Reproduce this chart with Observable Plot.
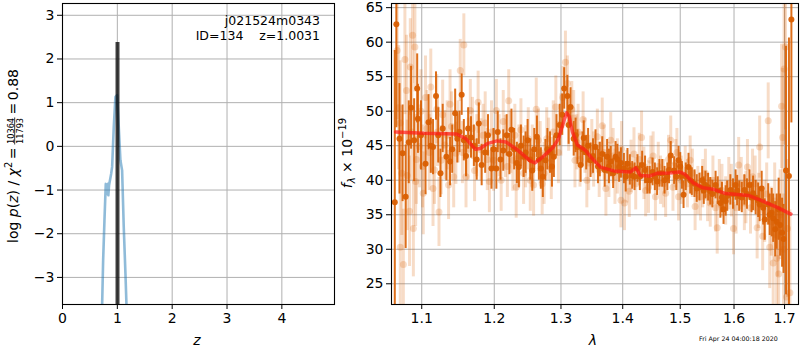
<!DOCTYPE html>
<html><head><meta charset="utf-8">
<script src="https://cdn.jsdelivr.net/npm/d3@7"></script>
<script src="https://cdn.jsdelivr.net/npm/@observablehq/plot@0.6"></script>
<style>
body{margin:0;background:#fff;font-family:"DejaVu Sans",sans-serif;}
#wrap{position:relative;width:800px;height:350px;overflow:hidden;background:#fff;}
#left{position:absolute;left:0;top:0;}
#right{position:absolute;left:340px;top:0;}
#stamp{position:absolute;left:699px;top:335px;font-size:6.3px;font-family:"DejaVu Sans",sans-serif;color:#000;white-space:pre;}
</style>
</head><body>
<div id="wrap"><div id="left"></div><div id="right"></div><div id="stamp"></div></div>
<script>
// ---------- data ----------
const objName = "j021524m0343";
const objInfo = "ID=134    z=1.0031";
const chi2Num = "10364";
const chi2Den = "11793";
const chi2Val = "0.88";
const stampText = "Fri Apr 24 04:00:18 2020";

const zTicks = [0, 1, 2, 3, 4];
const logpTicks = [-3, -2, -1, 0, 1, 2, 3];
const pzZ    = [0.723, 0.741, 0.765, 0.789, 0.814, 0.830, 0.836, 0.849, 0.887, 0.905, 0.935, 0.965, 0.996, 1.026, 1.056, 1.087, 1.117, 1.148, 1.166];
const pzLogP = [-3.61, -2.61, -1.70, -0.86, -1.09, -0.86, -1.12, -0.89, -0.63, -0.47, 0.44, 1.13, 1.17, 0.44, -0.32, -0.55, -1.85, -2.92, -3.61];
const zBest = 1.0031;
const zBestTop = 2.38;

const lamTicks = [1.1, 1.2, 1.3, 1.4, 1.5, 1.6, 1.7];
const fluxTicks = [25, 30, 35, 40, 45, 50, 55, 60, 65];

const darkLam  = [1.065,1.067,1.075,1.079,1.083,1.090,1.094,1.095,1.105,1.109,1.115,1.119,1.122,1.125,1.133,1.138,1.145,1.148,1.154,1.157,1.163,1.167,1.178,1.182,1.187,1.196,1.203,1.205,1.213,1.218,1.222,1.225,1.236,1.243,1.249,1.256,1.263,1.269,1.276,1.283,1.289,1.293,1.305,1.310,1.315,1.320,1.326,1.331,1.336,1.340,1.347,1.355,1.366,1.374,1.380,1.388,1.394,1.402,1.408,1.416,1.425,1.433,1.442,1.451,1.459,1.468,1.477,1.483,1.489,1.497,1.503,1.506,1.515,1.521,1.530,1.540,1.546,1.555,1.565,1.574,1.580,1.587,1.593,1.603,1.610,1.620,1.630,1.637,1.647,1.654,1.660,1.667,1.674,1.681,1.688,1.695,1.703,1.709,1.714,
  1.071,1.086,1.099,1.112,1.128,1.141,1.151,1.160,1.171,1.175,1.191,1.199,1.209,1.229,1.233,1.239,1.246,1.253,1.259,1.266,1.272,1.279,1.286,1.298,1.302,1.312,1.323,1.334,1.343,1.351,1.359,1.362,1.370,1.377,1.384,1.391,1.397,1.405,1.412,1.420,1.429,1.438,1.446,1.455,1.463,1.472,1.480,1.493,1.500,1.510,1.518,1.526,1.535,1.543,1.551,1.559,1.569,1.577,1.584,1.598,1.606,1.615,1.625,1.634,1.642,1.650,1.657,1.670,1.677,1.684,1.691,1.698];
const darkFlux = [36.8,62.6,43.9,37.6,45.5,45.8,53.3,48.9,42.4,48.4,44.8,52.2,46.5,41.0,43.4,42.7,49.7,46.0,52.4,45.8,47.5,46.2,48.2,42.2,44.0,41.7,41.7,47.0,44.3,46.5,43.8,47.3,41.9,43.4,45.8,41.4,46.3,41.7,42.9,44.0,43.4,46.5,53.3,52.2,50.6,46.0,44.8,42.2,46.1,44.0,42.9,44.8,43.8,43.4,42.7,43.4,41.9,41.7,42.4,40.7,41.7,42.2,40.0,41.2,39.8,41.0,40.5,43.6,41.4,42.9,40.7,37.9,41.9,39.8,38.8,40.0,39.3,38.4,39.3,36.7,35.8,37.7,38.6,39.3,37.7,38.6,39.3,38.1,37.1,38.8,34.3,36.5,35.3,32.9,35.8,32.4,41.4,40.6,63.3,
  46.0,50.5,46.5,45.0,47.5,44.5,47.0,43.5,45.0,43.0,46.5,44.5,43.0,44.5,42.5,45.0,44.0,43.0,44.5,43.0,40.5,44.5,42.0,48.0,49.5,48.0,46.5,44.5,45.0,43.5,42.0,43.0,41.5,42.0,41.0,43.0,42.5,40.5,41.5,40.5,40.5,41.5,40.0,40.5,41.0,40.0,41.5,40.5,42.0,40.5,40.0,39.5,39.0,38.5,39.0,38.0,38.5,37.5,37.0,38.0,38.5,37.5,38.0,37.5,37.5,36.5,36.0,35.0,34.5,34.0,33.5,31.5];
const darkErr  = [22,15,7,7.5,6,6,5,5,4.5,4,4,3.5,4,3.5,3.5,3.5,3.5,3.5,3,3,3,3,3,3,3,3,3,3,3,3,3,3,3,3,3,3,3,3,3,3,3,3,3,3,2.8,2.5,2.5,2.5,2.5,2.5,2.5,2.5,2.5,2.5,2.2,2.2,2.2,2.2,2.2,2,2,2,2,2,2,2,2,2,2,2,2,2,2,2,2,2,2,2,2,2.2,2.2,2.2,2.2,2.2,2.2,2.2,2.2,2.5,2.5,2.5,3,3,3.5,4,4.5,5,18,20,15,
  8,6,5,4,3.5,3.5,3,3,3,3,3,3,3,3,3,3,3,3,3,3,3,3,3,3,3,2.8,2.5,2.5,2.5,2.5,2.5,2.5,2.5,2.5,2.2,2.2,2.2,2.2,2.2,2,2,2,2,2,2,2,2,2,2,2,2,2,2,2,2,2,2,2.2,2.2,2.2,2.2,2.2,2.2,2.2,2.5,2.5,2.5,3,3.5,4,4.5,5];

const lightLam  = [1.068,1.072,1.072,1.076,1.078,1.081,1.085,1.088,1.089,1.091,1.092,1.097,1.102,1.105,1.110,1.115,1.120,1.123,1.126,1.131,1.136,1.140,1.146,1.152,1.157,1.160,1.166,1.172,1.177,1.181,1.187,1.193,1.199,1.203,1.210,1.216,1.221,1.227,1.232,1.239,1.246,1.253,1.258,1.262,1.265,1.271,1.278,1.285,1.292,1.307,1.312,1.317,1.322,1.327,1.335,1.341,1.349,1.358,1.366,1.372,1.380,1.387,1.397,1.403,1.411,1.419,1.432,1.439,1.448,1.456,1.465,1.474,1.483,1.492,1.497,1.509,1.518,1.527,1.537,1.546,1.555,1.568,1.577,1.590,1.599,1.609,1.620,1.626,1.636,1.645,1.650,1.656,1.667,1.670,1.677,1.684,1.688,1.694,1.696,1.699,1.702,1.704,1.711,
  1.070,1.074,1.080,1.084,1.087,1.093,1.099,1.101,1.107,1.112,1.117,1.121,1.128,1.134,1.138,1.143,1.149,1.155,1.163,1.169,1.175,1.184,1.190,1.196,1.207,1.213,1.219,1.224,1.230,1.236,1.243,1.250,1.256,1.268,1.274,1.281,1.288,1.296,1.300,1.303,1.310,1.320,1.325,1.330,1.338,1.344,1.352,1.361,1.369,1.377,1.384,1.391,1.398,1.407,1.414,1.422,1.428,1.436,1.444,1.452,1.461,1.470,1.479,1.487,1.494,1.502,1.513,1.522,1.532,1.541,1.550,1.560,1.565,1.572,1.584,1.595,1.604,1.614,1.623,1.632,1.641,1.648,1.660,1.664,1.673,1.680,1.686,1.691,1.698,1.706];
const lightFlux = [58.8,48.3,30.3,27.8,57.5,40.7,56.4,61.0,33.0,59.3,39.8,44.9,38.1,52.0,44.0,38.8,50.3,35.4,42.9,45.1,39.3,47.8,43.9,55.9,59.6,40.5,50.1,41.4,51.3,44.4,48.3,39.8,42.9,50.1,40.0,44.9,51.5,42.9,39.0,47.3,43.4,40.0,39.3,50.3,45.8,39.5,46.0,41.7,50.6,57.1,48.2,50.3,42.9,47.0,48.8,40.0,44.8,46.3,47.9,38.8,45.8,40.5,37.1,36.7,38.4,43.8,46.2,38.5,42.9,37.6,40.0,38.1,45.8,42.4,37.6,41.4,42.9,36.2,37.6,41.0,36.7,33.1,38.5,39.5,33.0,42.2,36.7,41.9,40.5,33.1,44.8,31.9,48.6,30.3,28.0,28.7,26.4,50.7,46.2,56.1,59.3,23.1,23.7,
  50.5,41.0,53.0,35.5,47.0,43.0,50.0,42.0,47.5,53.5,41.5,47.0,49.5,46.5,51.0,40.5,47.0,44.0,44.5,47.5,45.0,46.5,43.0,47.0,45.0,48.5,42.0,45.5,46.5,43.5,41.0,46.0,43.5,44.0,41.0,44.5,47.0,44.0,48.0,52.0,54.0,49.0,45.5,43.0,45.0,42.5,43.0,41.5,44.0,41.5,43.5,42.0,44.5,40.5,42.0,39.5,43.0,41.0,39.0,43.5,42.0,39.5,43.0,39.0,44.0,40.0,39.5,41.0,38.5,39.5,37.5,40.0,36.0,39.5,37.0,38.5,36.0,39.5,37.5,36.0,39.5,37.0,35.5,38.0,34.0,37.0,32.0,35.0,30.0,33.0];
const lightErr  = [10,9,9,8,8,8,7,7,7,6.5,6.5,6,6,6,5.5,5.5,5,5,5,5,5,5,4.5,4.5,4.5,4.5,4.5,4.5,4.5,4.5,4.5,4.5,4.5,4.5,4.5,4.5,4.5,4.5,4.5,4.5,4.5,4.5,4.5,4.5,4.5,4.5,4.5,4.5,4.5,4.5,4,4,4,4,4,4,4,4,4,4,4,4,4,4,3.8,3.8,3.8,3.8,3.5,3.5,3.5,3.5,3.5,3.5,3.5,3.5,3.5,3.5,3.5,3.5,3.5,3.8,3.8,3.8,3.8,4,4,4,4,4.5,4.5,5,5.5,6,6.5,7,7,9,10,11,12,12,12,
  9,9,8,8,7,6.5,6,6,5.5,5.5,5,5,5,5,5,4.5,4.5,4.5,4.5,4.5,4.5,4.5,4.5,4.5,4.5,4.5,4.5,4.5,4.5,4.5,4.5,4.5,4.5,4.5,4.5,4.5,4.5,4.5,4.5,4.5,4,4,4,4,4,4,4,4,4,4,4,4,4,3.8,3.8,3.8,3.8,3.8,3.8,3.5,3.5,3.5,3.5,3.5,3.5,3.5,3.5,3.5,3.5,3.5,3.5,3.5,3.5,3.5,3.5,3.8,3.8,3.8,3.8,3.8,4,4,4.5,4.5,5,5.5,6,6.5,8,10];

const modelLam  = [1.066,1.103,1.147,1.160,1.173,1.180,1.190,1.204,1.217,1.235,1.253,1.260,1.272,1.288,1.296,1.305,1.309,1.313,1.318,1.326,1.339,1.347,1.363,1.385,1.413,1.422,1.430,1.445,1.459,1.481,1.499,1.508,1.524,1.542,1.560,1.584,1.601,1.628,1.655,1.684,1.713];
const modelFlux = [47.0,46.8,46.7,46.0,44.5,44.6,45.3,45.7,45.55,44.3,42.8,42.5,43.4,44.8,46.0,48.7,49.75,49.2,47.0,45.1,44.3,43.4,41.9,41.35,41.2,41.8,40.7,40.6,41.0,41.06,41.2,40.9,39.6,38.9,38.7,38.07,37.97,37.8,37.0,36.1,35.1];

// ---------- build tables ----------
const pz = pzZ.map((z, i) => ({z, lp: pzLogP[i]}));
const dark = darkLam.map((l, i) => ({lam: l, f: darkFlux[i], lo: darkFlux[i] - darkErr[i], hi: darkFlux[i] + darkErr[i]}));
const light = lightLam.map((l, i) => ({lam: l, f: lightFlux[i], lo: lightFlux[i] - lightErr[i], hi: lightFlux[i] + lightErr[i]}));
const model = modelLam.map((l, i) => ({lam: l, f: modelFlux[i]}));

const FONT = "DejaVu Sans, sans-serif";
const orange = "#d95f02";
const grid = "#b0b0b0";
const minus = d => d < 0 ? "\u2212" + Math.abs(d) : String(d);

// ---------- left panel ----------
const left = Plot.plot({
  width: 340, height: 350,
  marginLeft: 62, marginRight: 6, marginTop: 3, marginBottom: 46,
  style: {fontFamily: FONT, fontSize: "14px", color: "black", background: "white", overflow: "visible"},
  x: {domain: [0, 4.96], ticks: zTicks, tickSize: 5, tickPadding: 4, tickFormat: d => String(d), label: null},
  y: {domain: [-3.62, 3.27], ticks: logpTicks, tickSize: 5, tickPadding: 3, tickFormat: minus, label: null},
  marks: [
    Plot.ruleX(zTicks, {stroke: grid, strokeWidth: 1}),
    Plot.ruleY(logpTicks, {stroke: grid, strokeWidth: 1}),
    Plot.line(pz, {x: "z", y: "lp", stroke: "#1f77b4", strokeOpacity: 0.5, strokeWidth: 2.6, clip: true}),
    Plot.ruleX([zBest], {x: d => d, y1: -3.62, y2: zBestTop, stroke: "#000", strokeOpacity: 0.75, strokeWidth: 4, clip: true}),
    Plot.frame({stroke: "black", strokeWidth: 1.1})
  ]
});
document.getElementById("left").appendChild(left);

// ---------- right panel ----------
const right = Plot.plot({
  width: 460, height: 350,
  marginLeft: 51, marginRight: 2, marginTop: 3, marginBottom: 46,
  style: {fontFamily: FONT, fontSize: "14px", color: "black", background: "white", overflow: "visible"},
  x: {type: "log", domain: [1.0608, 1.7287], ticks: lamTicks, tickSize: 5, tickPadding: 4, tickFormat: d => d.toFixed(1), label: null},
  y: {domain: [22, 65.6], ticks: fluxTicks, tickSize: 5, tickPadding: 3, tickFormat: d => String(d), label: null},
  marks: [
    Plot.ruleX(lamTicks, {stroke: grid, strokeWidth: 1}),
    Plot.ruleY(fluxTicks, {stroke: grid, strokeWidth: 1}),
    Plot.ruleX(light, {x: "lam", y1: "lo", y2: "hi", stroke: orange, strokeOpacity: 0.22, strokeWidth: 3, clip: true}),
    Plot.dot(light, {x: "lam", y: "f", r: 3.5, fill: orange, fillOpacity: 0.22, stroke: "none", clip: true}),
    Plot.ruleX(dark, {x: "lam", y1: "lo", y2: "hi", stroke: orange, strokeOpacity: 0.9, strokeWidth: 2, clip: true}),
    Plot.dot(dark, {x: "lam", y: "f", r: 3, fill: orange, fillOpacity: 0.95, stroke: "none", clip: true}),
    Plot.line(model, {x: "lam", y: "f", stroke: "#ff1a1a", strokeOpacity: 0.7, strokeWidth: 3.5, clip: true}),
    Plot.frame({stroke: "black", strokeWidth: 1.1})
  ]
});
document.getElementById("right").appendChild(right);

// ---------- texts ----------
const ls = d3.select(left);
const tg = ls.append("g").attr("font-family", FONT).attr("font-size", 12.5).attr("fill", "black").attr("text-anchor", "end");
tg.append("text").attr("x", 320).attr("y", 24.5).text(objName);
tg.append("text").attr("x", 320).attr("y", 40).style("white-space", "pre").attr("xml:space", "preserve").text(objInfo);

// x label z
ls.append("text").attr("x", 197).attr("y", 345).attr("text-anchor", "middle").attr("font-family", FONT)
  .attr("font-size", 14).attr("font-style", "italic").text("z");

// y label: log p(z) / chi^2 = frac = val
const yg = ls.append("g").attr("transform", "translate(18,243) rotate(-90)")
  .attr("font-family", FONT).attr("font-size", 14).attr("fill", "black").attr("text-anchor", "start");
const t1 = yg.append("text").attr("x", 0).attr("y", 0).attr("text-anchor", "start");
t1.append("tspan").text("log ");
t1.append("tspan").attr("font-style", "italic").text("p");
t1.append("tspan").text("(");
t1.append("tspan").attr("font-style", "italic").text("z");
t1.append("tspan").text(") / ");
t1.append("tspan").attr("font-style", "italic").text("\u03c7");
t1.append("tspan").attr("font-size", 10).attr("dy", -6).text("2");
t1.append("tspan").attr("dy", 6).attr("dx", 2.5).text("=");
const w1 = t1.node().getComputedTextLength() + 2.5;
const fx = w1 + 3;
const num = yg.append("text").attr("x", 0).attr("y", -4.5).attr("font-size", 8.2).attr("text-anchor", "start").text(chi2Num);
const den = yg.append("text").attr("x", 0).attr("y", 4.6).attr("font-size", 8.2).attr("text-anchor", "start").text(chi2Den);
const wn = num.node().getComputedTextLength(), wd = den.node().getComputedTextLength();
const fw = Math.max(wn, wd) + 1;
num.attr("x", fx + (fw - wn) / 2);
den.attr("x", fx + (fw - wd) / 2);
yg.append("line").attr("x1", fx).attr("x2", fx + fw).attr("y1", -3.3).attr("y2", -3.3).attr("stroke", "black").attr("stroke-width", 0.8);
const t2 = yg.append("text").attr("x", fx + fw + 3).attr("y", 0).attr("text-anchor", "start");
t2.append("tspan").text("=");
t2.append("tspan").attr("dx", 2.5).text(chi2Val);

// right panel labels
const rs = d3.select(right);
rs.append("text").attr("x", 253).attr("y", 345).attr("text-anchor", "middle").attr("font-family", FONT)
  .attr("font-size", 14).attr("font-style", "italic").text("\u03bb");
const rg = rs.append("g").attr("transform", "translate(12,153) rotate(-90)").attr("font-family", FONT).attr("font-size", 14).attr("fill", "black");
const rt = rg.append("text").attr("x", 0).attr("y", 0).attr("text-anchor", "middle");
rt.append("tspan").attr("font-style", "italic").text("f");
rt.append("tspan").attr("font-size", 10).attr("font-style", "italic").attr("dy", 3).text("\u03bb");
rt.append("tspan").attr("dy", -3).text(" \u00d7 10");
rt.append("tspan").attr("font-size", 10).attr("dy", -6).text("\u221219");

document.getElementById("stamp").textContent = stampText;
</script>
</body></html>
